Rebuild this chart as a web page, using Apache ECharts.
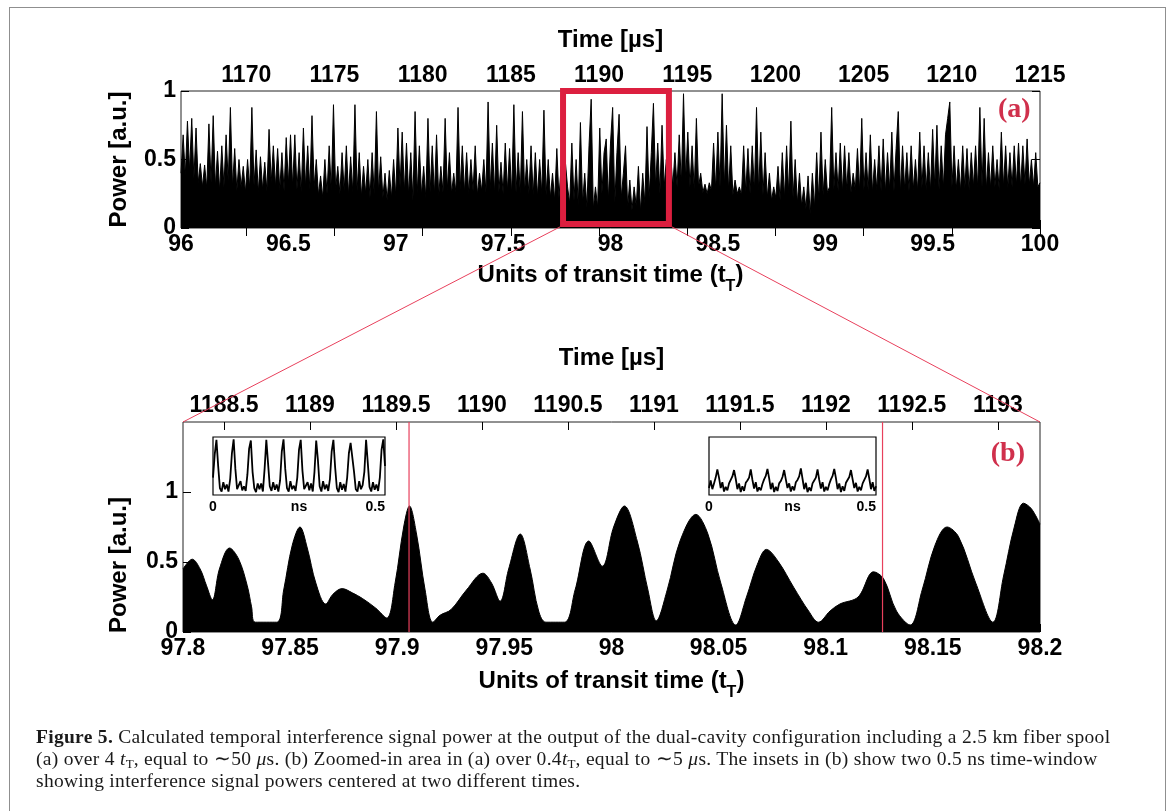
<!DOCTYPE html>
<html><head><meta charset="utf-8">
<script src="https://cdn.jsdelivr.net/npm/echarts@6/dist/echarts.min.js"></script>
<style>
html,body{margin:0;padding:0;width:1171px;height:811px;overflow:hidden;background:#fff;}
#frame{position:absolute;left:9px;top:7px;width:1157px;height:900px;border:1.5px solid #8f8f8f;box-sizing:border-box;}
#chart{position:absolute;left:0;top:0;width:1171px;height:811px;}
#caption{position:absolute;left:36px;top:726px;font-family:'Liberation Serif','Times New Roman',serif;font-size:19.5px;letter-spacing:0.3px;line-height:22px;color:#1a1a1a;white-space:nowrap;}
#caption sub{font-size:13px;vertical-align:-3px;line-height:0;letter-spacing:0;}
#caption b{font-weight:bold;}
</style></head><body>
<div id="frame"></div>
<div id="chart"></div>
<div id="caption"><b>Figure 5.</b> Calculated temporal interference signal power at the output of the dual-cavity configuration including a 2.5 km fiber spool<br>(a) over 4 <i>t</i><sub>T</sub>, equal to ∼50 <i>μ</i>s. (b) Zoomed-in area in (a) over 0.4<i>t</i><sub>T</sub>, equal to ∼5 <i>μ</i>s. The insets in (b) show two 0.5 ns time-window<br>showing interference signal powers centered at two different times.</div>
<script>
// ---------- DATA ----------
// (a) full window: samples every 0.01 t_T from 96 to 100
const topStart = 96;
const topStep = 0.01;
const topPower = [
0.40,0.68,0.38,0.78,0.42,0.80,0.36,0.73,0.33,0.47,
0.30,0.46,0.29,0.76,0.33,0.82,0.30,0.56,0.27,0.60,
0.30,0.68,0.34,0.88,0.30,0.58,0.27,0.50,0.30,0.45,
0.26,0.50,0.29,0.88,0.31,0.57,0.26,0.52,0.28,0.48,
0.27,0.72,0.33,0.60,0.30,0.58,0.28,0.55,0.27,0.66,
0.32,0.68,0.30,0.68,0.28,0.55,0.26,0.73,0.30,0.60,
0.28,0.82,0.30,0.50,0.24,0.38,0.22,0.50,0.25,0.60,
0.27,0.90,0.28,0.45,0.25,0.55,0.27,0.60,0.24,0.52,
0.26,0.90,0.27,0.55,0.23,0.45,0.25,0.50,0.22,0.55,
0.24,0.85,0.26,0.52,0.22,0.40,0.20,0.42,0.22,0.50,
0.23,0.73,0.30,0.70,0.26,0.62,0.24,0.55,0.20,0.85,
0.25,0.60,0.24,0.45,0.22,0.80,0.26,0.60,0.24,0.68,
0.23,0.45,0.26,0.80,0.28,0.55,0.25,0.40,0.26,0.88,
0.28,0.60,0.26,0.55,0.25,0.50,0.27,0.60,0.24,0.40,
0.27,0.50,0.26,0.92,0.28,0.62,0.25,0.75,0.26,0.48,
0.25,0.62,0.27,0.58,0.24,0.90,0.26,0.55,0.25,0.85,
0.26,0.50,0.25,0.60,0.24,0.55,0.23,0.50,0.25,0.86,
0.24,0.50,0.22,0.40,0.20,0.58,0.22,0.45,0.28,0.48,
0.30,0.18,0.62,0.20,0.50,0.16,0.77,0.18,0.40,0.15,
0.60,0.94,0.14,0.30,0.15,0.73,0.25,0.55,0.65,0.20,
0.62,0.88,0.18,0.55,0.83,0.22,0.40,0.60,0.15,0.35,
0.13,0.30,0.16,0.45,0.12,0.40,0.18,0.74,0.22,0.55,
0.91,0.30,0.62,0.25,0.75,0.30,0.50,0.30,0.55,0.30,
0.55,0.30,0.68,0.32,0.98,0.35,0.70,0.30,0.60,0.28,
0.80,0.30,0.40,0.26,0.32,0.25,0.33,0.27,0.62,0.28,
0.70,0.30,0.98,0.30,0.75,0.27,0.60,0.24,0.35,0.25,
0.30,0.24,0.60,0.26,0.58,0.25,0.60,0.27,0.88,0.26,
0.70,0.24,0.55,0.22,0.40,0.20,0.30,0.22,0.45,0.20,
0.55,0.22,0.60,0.25,0.78,0.22,0.50,0.18,0.40,0.16,
0.30,0.14,0.38,0.10,0.40,0.15,0.55,0.20,0.70,0.24,
0.50,0.26,0.30,0.88,0.28,0.55,0.27,0.62,0.26,0.60,
0.28,0.55,0.26,0.40,0.28,0.58,0.27,0.80,0.28,0.55,
0.27,0.68,0.26,0.50,0.28,0.60,0.27,0.65,0.26,0.55,
0.28,0.70,0.27,0.58,0.85,0.26,0.60,0.28,0.55,0.27,
0.60,0.28,0.50,0.27,0.70,0.29,0.60,0.28,0.55,0.27,
0.72,0.30,0.75,0.28,0.60,0.29,0.68,0.80,0.92,0.30,
0.60,0.28,0.50,0.27,0.60,0.29,0.58,0.28,0.55,0.30,
0.60,0.29,0.88,0.30,0.80,0.28,0.55,0.29,0.60,0.30,
0.50,0.28,0.70,0.30,0.60,0.29,0.55,0.30,0.60,0.31,
0.62,0.30,0.60,0.32,0.65,0.31,0.50,0.30,0.55,0.30,
0.33
];
const topTicks = [96, 96.5, 97, 97.5, 98, 98.5, 99, 99.5, 100];
const topTimeTicks = [1170, 1175, 1180, 1185, 1190, 1195, 1200, 1205, 1210, 1215];
const topTimeRange = [1166.3, 1215];

// (b) zoomed window: envelope key points (t_T, power)
const zoomT = [97.800,97.8043,97.808,97.811,97.8137,97.817,97.8217,97.826,97.830,97.832,
97.8337,97.8437,97.847,97.851,97.8546,97.858,97.862,97.8666,97.870,97.8743,
97.879,97.8837,97.890,97.8951,97.899,97.903,97.9057,97.909,97.913,97.9166,
97.920,97.9251,97.9323,97.940,97.944,97.948,97.952,97.9574,97.962,97.966,
97.9694,97.978,97.983,97.9894,97.9957,98.001,98.006,98.012,98.017,98.0209,
98.026,98.032,98.0394,98.045,98.051,98.058,98.063,98.068,98.0723,98.078,
98.085,98.092,98.0966,98.102,98.1066,98.1151,98.1223,98.127,98.133,98.1394,
98.145,98.151,98.1566,98.162,98.170,98.178,98.183,98.188,98.1923,98.196,98.200];
const zoomPower = [0.45,0.52,0.45,0.33,0.23,0.45,0.60,0.52,0.33,0.18,
0.07,0.07,0.30,0.62,0.75,0.60,0.35,0.20,0.27,0.31,
0.28,0.24,0.17,0.10,0.35,0.75,0.90,0.70,0.30,0.07,
0.12,0.16,0.30,0.42,0.35,0.22,0.45,0.70,0.45,0.15,
0.07,0.07,0.30,0.65,0.47,0.75,0.90,0.65,0.30,0.08,
0.30,0.65,0.84,0.70,0.35,0.05,0.25,0.48,0.59,0.50,
0.32,0.15,0.07,0.15,0.20,0.25,0.43,0.38,0.15,0.05,
0.30,0.62,0.75,0.68,0.35,0.07,0.40,0.75,0.92,0.88,0.77];
const zoomTicks = [97.8, 97.85, 97.9, 97.95, 98, 98.05, 98.1, 98.15, 98.2];
const zoomTimeTicks = [1188.5, 1189, 1189.5, 1190, 1190.5, 1191, 1191.5, 1192, 1192.5, 1193];
const zoomTimeRange = [1188.262, 1193.245];
const zoomYTicks = [0, 0.5, 1];
const zoomWindow = [97.779, 98.272];     // red box in (a)
const insetCentres = [97.9055, 98.1265]; // red marker lines in (b)

// insets: 0.5 ns windows, samples every 0.005 ns
const insetStep = 0.005;
const inset1 = [
0.30,0.70,0.95,0.50,0.12,0.06,0.22,0.10,0.18,0.06,
0.28,0.72,0.96,0.45,0.10,0.08,0.24,0.08,0.15,0.07,
0.35,0.80,0.94,0.40,0.12,0.05,0.20,0.10,0.20,0.06,
0.45,0.95,0.55,0.15,0.07,0.22,0.09,0.18,0.06,0.25,
0.75,0.96,0.45,0.12,0.06,0.24,0.10,0.16,0.07,0.30,
0.78,0.95,0.42,0.10,0.08,0.22,0.08,0.20,0.06,0.40,
0.94,0.60,0.15,0.06,0.24,0.10,0.18,0.07,0.28,0.75,
0.95,0.48,0.12,0.05,0.22,0.09,0.19,0.06,0.30,0.72,
0.90,0.88,0.40,0.10,0.06,0.24,0.10,0.17,0.40,0.95,
0.55,0.14,0.06,0.22,0.09,0.18,0.07,0.30,0.78,0.96,
0.50];
const inset2 = [
0.12,0.25,0.10,0.20,0.30,0.44,0.30,0.12,0.22,0.06,
0.14,0.08,0.20,0.26,0.32,0.43,0.28,0.10,0.20,0.05,
0.15,0.07,0.21,0.25,0.30,0.44,0.26,0.11,0.22,0.06,
0.13,0.08,0.19,0.27,0.33,0.45,0.29,0.10,0.21,0.05,
0.14,0.07,0.20,0.24,0.31,0.43,0.27,0.12,0.20,0.06,
0.15,0.08,0.22,0.26,0.32,0.46,0.28,0.10,0.21,0.05,
0.13,0.07,0.20,0.25,0.30,0.44,0.26,0.11,0.22,0.06,
0.14,0.08,0.19,0.27,0.33,0.45,0.29,0.10,0.20,0.05,
0.15,0.07,0.21,0.24,0.31,0.43,0.27,0.12,0.21,0.06,
0.14,0.08,0.20,0.26,0.32,0.44,0.28,0.10,0.22,0.07,
0.15];
const insetTicks = [0, 0.25, 0.5];

// ---------- CHART ----------
const FONT = "'Liberation Sans', Arial, Helvetica, sans-serif";
const RED = '#dc1f3f';
const LINE_RED = '#e8405c';
const lbl = {fontFamily: FONT, fontWeight: 'bold', fontSize: 23, color: '#000', formatter: v => String(+(+v).toFixed(2))};
const nm = {fontFamily: FONT, fontWeight: 'bold', fontSize: 24, color: '#000'};
const nmRich = {
  fontFamily: FONT, fontWeight: 'bold', fontSize: 24, color: '#000',
  rich: {
    a: {fontFamily: FONT, fontWeight: 'bold', fontSize: 24, color: '#000', lineHeight: 30, verticalAlign: 'top'},
    s: {fontFamily: FONT, fontWeight: 'bold', fontSize: 16, color: '#000', lineHeight: 30, verticalAlign: 'bottom', padding: [0, 0, -2, 0]}
  }
};
const tick = {inside: true, length: 8, lineStyle: {color: '#000', width: 1}};
const noSplit = {show: false};
const noLine = {show: false};

const topData = topPower.map((v, i) => [+(topStart + i * topStep).toFixed(2), v]);
const zoomData = zoomT.map((t, i) => [t, zoomPower[i]]);
const in1Data = inset1.map((v, i) => [+(i * insetStep).toFixed(3), v]);
const in2Data = inset2.map((v, i) => [+(i * insetStep).toFixed(3), v]);
const insetLabel = {customValues: insetTicks, margin: 5, fontFamily: FONT, fontWeight: 'bold', fontSize: 14, color: '#000',
                    alignMaxLabel: 'right', alignMinLabel: 'center',
                    formatter: v => (Math.abs(v - 0.25) < 1e-6 ? 'ns' : String(+v))};

const chart = echarts.init(document.getElementById('chart'), null, {renderer: 'canvas'});
const option = {
  animation: false,
  backgroundColor: 'transparent',
  grid: [
    {left: 181, right: 131, top: 91, height: 137, show: true, borderColor: '#222', borderWidth: 1, backgroundColor: '#fff'},
    {left: 183, right: 131, top: 422, height: 210, show: true, borderColor: '#222', borderWidth: 1, backgroundColor: '#fff'},
    {left: 213, top: 437, width: 172, height: 58, show: true, borderColor: '#000', borderWidth: 1.2, backgroundColor: '#fff', z: 5},
    {left: 709, top: 437, width: 167, height: 58, show: true, borderColor: '#000', borderWidth: 1.2, backgroundColor: '#fff', z: 5}
  ],
  xAxis: [
    {gridIndex: 0, type: 'value', position: 'bottom', min: 96, max: 100,
     axisLine: noLine, splitLine: noSplit,
     axisTick: Object.assign({customValues: topTicks}, tick),
     axisLabel: Object.assign({customValues: topTicks, margin: 5}, lbl),
     name: '{a|Units of transit time (t}{s|T}{a|)}', nameLocation: 'middle', nameGap: 35, nameTextStyle: nmRich},
    {gridIndex: 0, type: 'value', position: 'top', min: topTimeRange[0], max: topTimeRange[1],
     axisLine: noLine, splitLine: noSplit,
     axisTick: Object.assign({customValues: topTimeTicks}, tick),
     axisLabel: Object.assign({customValues: topTimeTicks, margin: 4}, lbl),
     name: 'Time [µs]', nameLocation: 'middle', nameGap: 39, nameTextStyle: nm},
    {gridIndex: 1, type: 'value', position: 'bottom', min: 97.8, max: 98.2,
     axisLine: noLine, splitLine: noSplit,
     axisTick: Object.assign({customValues: zoomTicks}, tick),
     axisLabel: Object.assign({customValues: zoomTicks, margin: 5}, lbl),
     name: '{a|Units of transit time (t}{s|T}{a|)}', nameLocation: 'middle', nameGap: 37, nameTextStyle: nmRich},
    {gridIndex: 1, type: 'value', position: 'top', min: zoomTimeRange[0], max: zoomTimeRange[1],
     axisLine: noLine, splitLine: noSplit,
     axisTick: Object.assign({customValues: zoomTimeTicks}, tick),
     axisLabel: Object.assign({customValues: zoomTimeTicks, margin: 5}, lbl),
     name: 'Time [µs]', nameLocation: 'middle', nameGap: 52, nameTextStyle: nm},
    {gridIndex: 2, type: 'value', min: 0, max: 0.5, axisLine: noLine, splitLine: noSplit,
     axisTick: {show: false}, axisLabel: insetLabel},
    {gridIndex: 3, type: 'value', min: 0, max: 0.5, axisLine: noLine, splitLine: noSplit,
     axisTick: {show: false}, axisLabel: insetLabel}
  ],
  yAxis: [
    {gridIndex: 0, type: 'value', min: 0, max: 1, interval: 0.5, axisLine: noLine, splitLine: noSplit,
     axisTick: tick, axisLabel: Object.assign({margin: 5}, lbl),
     name: 'Power [a.u.]', nameLocation: 'middle', nameGap: 50, nameRotate: 90, nameTextStyle: nm},
    {gridIndex: 0, type: 'value', position: 'right', min: 0, max: 1, interval: 0.5, axisLine: noLine, splitLine: noSplit,
     axisTick: tick, axisLabel: {show: false}},
    {gridIndex: 1, type: 'value', min: 0, max: 1.5, axisLine: noLine, splitLine: noSplit,
     axisTick: Object.assign({customValues: zoomYTicks}, tick),
     axisLabel: Object.assign({customValues: zoomYTicks, margin: 5}, lbl)},
    {gridIndex: 2, type: 'value', min: 0, max: 1, show: false},
    {gridIndex: 3, type: 'value', min: 0, max: 1, show: false}
  ],
  series: [
    {type: 'line', xAxisIndex: 0, yAxisIndex: 0, data: topData, showSymbol: false, silent: true,
     lineStyle: {color: '#000', width: 1}, areaStyle: {color: '#000', opacity: 1}},
    {type: 'line', xAxisIndex: 2, yAxisIndex: 2, data: zoomData, showSymbol: false, silent: true, smooth: 0.35,
     lineStyle: {color: '#000', width: 1}, areaStyle: {color: '#000', opacity: 1}},
    {type: 'line', xAxisIndex: 4, yAxisIndex: 3, data: in1Data, showSymbol: false, silent: true, z: 6,
     lineStyle: {color: '#000', width: 1.8}},
    {type: 'line', xAxisIndex: 5, yAxisIndex: 4, data: in2Data, showSymbol: false, silent: true, z: 6,
     lineStyle: {color: '#000', width: 1.8}}
  ]
};
chart.setOption(option);

// annotations positioned from the axes' own scales
const pA = {xAxisIndex: 0, yAxisIndex: 0};
const pB = {xAxisIndex: 2, yAxisIndex: 2};
const bl = chart.convertToPixel(pA, [zoomWindow[0], 0.03]);
const tr = chart.convertToPixel(pA, [zoomWindow[1], 1.0]);
const gTL = chart.convertToPixel(pB, [97.8, 1.5]);
const gTR = chart.convertToPixel(pB, [98.2, 1.5]);
const aPos = chart.convertToPixel(pA, [99.88, 0.86]);
const bPos = chart.convertToPixel(pB, [98.185, 1.27]);
const vLines = insetCentres.map(x => {
  const top = chart.convertToPixel(pB, [x, 1.5]);
  const bot = chart.convertToPixel(pB, [x, 0]);
  return {type: 'line', z: 40, silent: true, shape: {x1: top[0], y1: top[1], x2: bot[0], y2: bot[1]},
          style: {stroke: LINE_RED, lineWidth: 1.2}};
});
chart.setOption({
  graphic: vLines.concat([
    {type: 'line', z: 50, silent: true, shape: {x1: bl[0] - 3, y1: bl[1] + 3, x2: gTL[0], y2: gTL[1]},
     style: {stroke: LINE_RED, lineWidth: 1}},
    {type: 'line', z: 50, silent: true, shape: {x1: tr[0] + 3, y1: bl[1] + 3, x2: gTR[0], y2: gTR[1]},
     style: {stroke: LINE_RED, lineWidth: 1}},
    {type: 'rect', z: 60, silent: true, shape: {x: bl[0], y: tr[1], width: tr[0] - bl[0], height: bl[1] - tr[1]},
     style: {fill: 'none', stroke: RED, lineWidth: 6}},
    {type: 'text', z: 60, silent: true, x: aPos[0], y: aPos[1],
     style: {text: '(a)', fill: '#d0304c', font: "bold 28px 'Liberation Serif', 'Times New Roman', serif", align: 'center', verticalAlign: 'middle'}},
    {type: 'text', z: 60, silent: true, x: bPos[0], y: bPos[1],
     style: {text: '(b)', fill: '#d0304c', font: "bold 28px 'Liberation Serif', 'Times New Roman', serif", align: 'center', verticalAlign: 'middle'}},
    {type: 'text', z: 60, silent: true, x: 119, y: 565, rotation: Math.PI / 2,
     style: {text: 'Power [a.u.]', fill: '#000', font: "bold 24px 'Liberation Sans', Arial, sans-serif", align: 'center', verticalAlign: 'middle'}}
  ])
});
</script>
</body></html>
